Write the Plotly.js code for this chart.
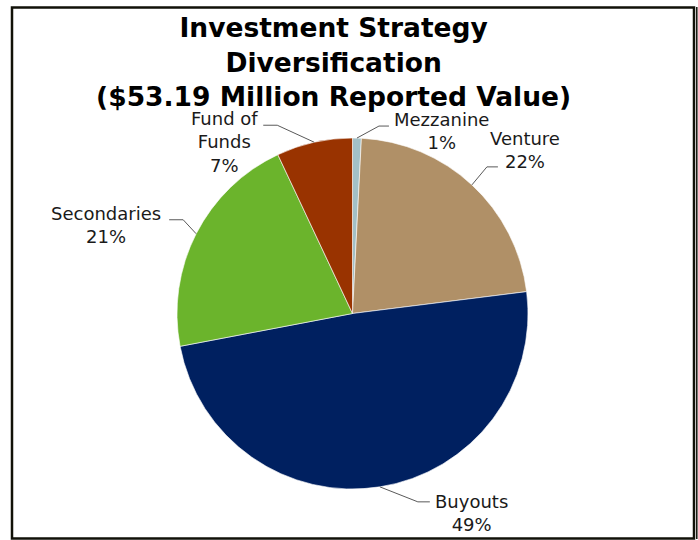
<!DOCTYPE html>
<html><head><meta charset="utf-8">
<script src="https://cdn.plot.ly/plotly-3.0.1.min.js"></script>
<style>html,body{margin:0;padding:0;background:#fff}</style></head>
<body><div id="chart" style="width:698px;height:540px"></div>
<script>
// ---- data ----
const categories = ['Mezzanine', 'Venture', 'Buyouts', 'Secondaries', 'Fund of Funds'];
const labelLines = ['Mezzanine', 'Venture', 'Buyouts', 'Secondaries', 'Fund of<br>Funds'];
const valuesMillions = [0.43, 11.81, 26.06, 11.17, 3.72];
const titleText = 'Investment Strategy<br>Diversification<br>($53.19 Million Reported Value)';

// ---- style ----
const sliceColors = ['#A3C0C6', '#B09067', '#002060', '#6BB42C', '#993300'];
const W = 698, H = 540;
const cx = 352.5, cy = 313.5, R = 175.5;
const FONT = 'DejaVu Sans, Verdana, sans-serif';
// leader geometry per label (pixel offsets): elbow from edge, horizontal run, label centre from run end
const leaderStyle = [
  {ex: 22, ey: -12, h: 10, lx: 53, ly: 5},
  {ex: 15, ey: -18, h: 11, lx: 27, ly: -17},
  {ex: 38, ey: 15, h: 12, lx: 42, ly: 11},
  {ex: -13, ey: -14, h: -14, lx: -63, ly: 5},
  {ex: -37, ey: -17, h: -14, lx: -39, ly: 17}
];

const px = x => x / W;
const py = y => 1 - y / H;

const total = valuesMillions.reduce((a, b) => a + b, 0);
let cum = 0;
const shapes = [];
const annotations = [];
valuesMillions.forEach((v, i) => {
  const frac = v / total;
  const mid = (cum + frac / 2) * 2 * Math.PI;
  cum += frac;
  const exx = cx + R * Math.sin(mid), eyy = cy - R * Math.cos(mid);
  const s = leaderStyle[i];
  const bx = exx + s.ex, by = eyy + s.ey;
  const endx = bx + s.h;
  shapes.push({type: 'path', xref: 'paper', yref: 'paper',
    path: `M ${px(exx)} ${py(eyy)} L ${px(bx)} ${py(by)} L ${px(endx)} ${py(by)}`,
    line: {color: '#595959', width: 1}});
  annotations.push({xref: 'paper', yref: 'paper', x: px(endx + s.lx), y: py(by + s.ly),
    xanchor: 'center', yanchor: 'middle', align: 'center', showarrow: false,
    text: labelLines[i] + '<br>' + Math.round(frac * 100) + '%',
    font: {family: FONT, size: 18, color: '#1a1a1a'}});
});

// frame
shapes.push({type: 'rect', xref: 'paper', yref: 'paper', x0: px(12), x1: px(694), y0: py(538.5), y1: py(7.5),
  line: {color: '#111108', width: 2.5}, layer: 'above'});
shapes.push({type: 'line', xref: 'paper', yref: 'paper', x0: px(696.8), x1: px(696.8), y0: py(539), y1: py(7),
  line: {color: '#111108', width: 1.5}});

const trace = {
  type: 'pie', labels: categories, values: valuesMillions, sort: false, direction: 'clockwise', rotation: 0,
  marker: {colors: sliceColors, line: {color: '#ffffff', width: 0.6}},
  textinfo: 'none', hoverinfo: 'label+percent', showlegend: false,
  domain: {x: [px(cx - R), px(cx + R)], y: [py(cy + R), py(cy - R)]}
};

const layout = {
  width: W, height: H, margin: {l: 0, r: 0, t: 0, b: 0},
  paper_bgcolor: '#ffffff', showlegend: false,
  title: {text: titleText, x: 0.478, xanchor: 'center', y: 0.931, yanchor: 'top', yref: 'paper',
    font: {family: FONT, size: 26.5, color: '#000000', weight: 'bold'}},
  shapes: shapes, annotations: annotations
};

Plotly.newPlot('chart', [trace], layout, {displayModeBar: false, staticPlot: true});
</script></body></html>
